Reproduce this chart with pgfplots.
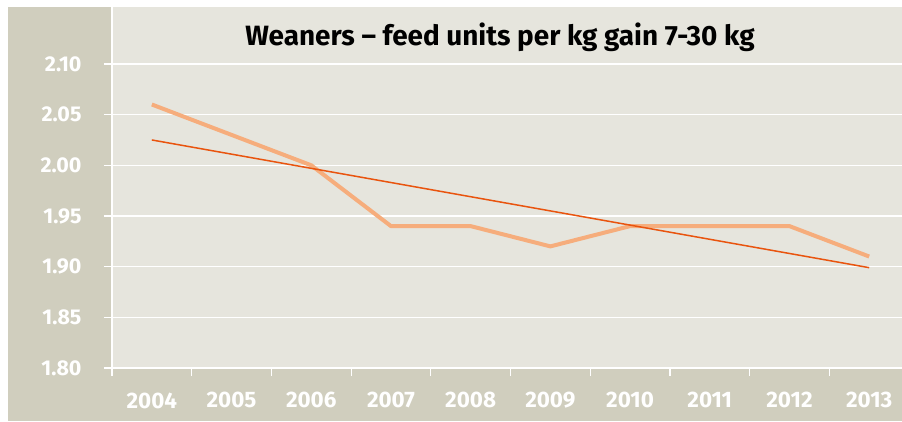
\documentclass[border=0pt]{standalone}
\usepackage{fontspec}
\setmainfont{Fira Sans}
\usepackage{pgfplots}
\pgfplotsset{compat=1.18}
\definecolor{plotbg}{HTML}{E6E5DD}
\definecolor{panel}{HTML}{D0CEBE}
\definecolor{dataline}{HTML}{F6AD7C}
\definecolor{trend}{HTML}{E9540E}
\begin{document}
\begin{tikzpicture}[x=1bp,y=1bp]
\useasboundingbox (-112,-53) rectangle (790,368);
\fill[panel] (-104,-53) rectangle (790,361);
\begin{axis}[
  at={(0,0)}, anchor=south west,
  scale only axis, width=790bp, height=361bp,
  xmin=0.5, xmax=10.412, ymin=1.80, ymax=2.1562,
  axis background/.style={fill=plotbg},
  axis x line*=bottom, axis y line*=left,
  axis line style={white, line width=1.2bp},
  tick align=outside,
  major tick length=8bp,
  tick style={white, line width=1.2bp},
  ytick={1.80,1.85,1.90,1.95,2.00,2.05,2.10},
  ymajorgrids,
  grid style={white, line width=1.2bp},
  /pgf/number format/assume math mode=true,
  /pgf/number format/.cd, fixed, fixed zerofill, precision=2, /pgfplots/.cd,
  yticklabel style={font=\bfseries\fontsize{21.5}{21.5}\selectfont, text=white, xshift=-19bp},
  xtick={0.5,1.5,...,9.5},
  xticklabels={},
  extra x ticks={1,2,3,4,5,6,7,8,9,10},
  extra x tick labels={2004,2005,2006,2007,2008,2009,2010,2011,2012,2013},
  extra x tick style={major tick length=0pt, xticklabel style={font=\bfseries\fontsize{22.5}{22.5}\selectfont, text=white, yshift=-21bp}},
  clip=false,
]
\addplot[dataline, line width=4bp, line join=round] coordinates {
  (1,2.06) (2,2.03) (3,2.00) (4,1.94) (5,1.94) (6,1.92) (7,1.94) (8,1.94) (9,1.94) (10,1.91)
};
\addplot[trend, line width=1.5bp] coordinates {
  (1,2.025) (10,1.899)
};
\end{axis}
\node[anchor=base, font=\bfseries\fontsize{28}{28}\selectfont] at (388,323) {Weaners – feed units per kg gain 7-30 kg};
\end{tikzpicture}
\end{document}
